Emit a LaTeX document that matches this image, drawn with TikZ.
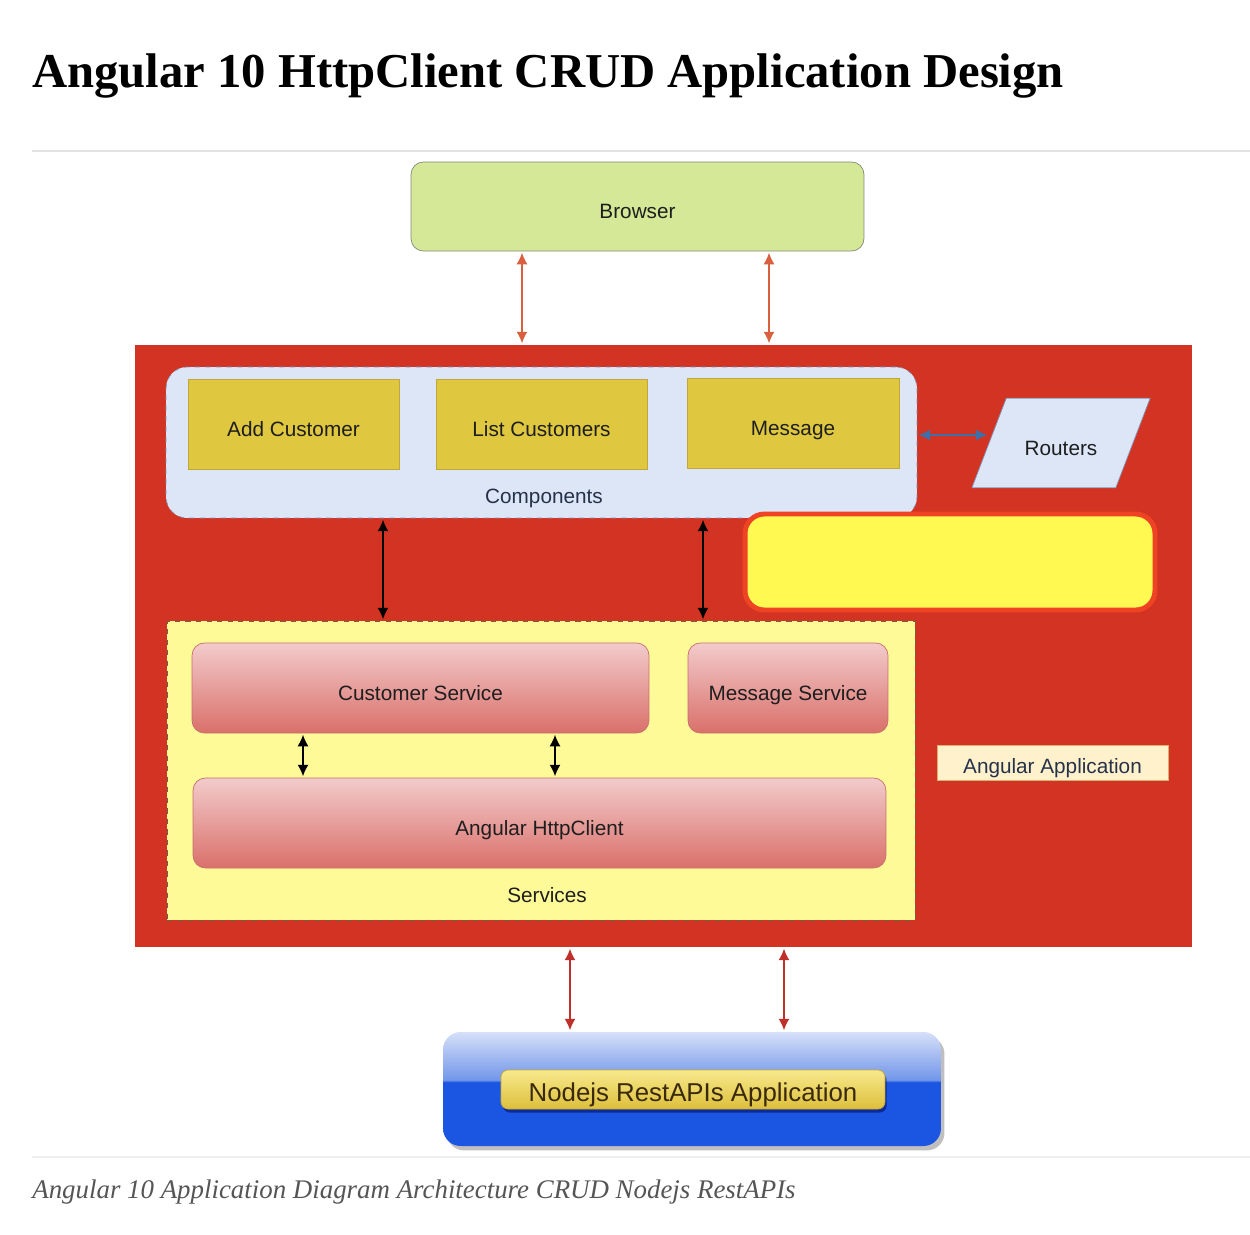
\documentclass[tikz,border=0pt]{standalone}
\usepackage{fontspec}
\setmainfont{Liberation Sans}
\newfontfamily\headserif{Liberation Serif}
\usepackage{tikz}
\usetikzlibrary{shapes.geometric, arrows.meta, positioning, calc, shadows}

\definecolor{textdark}{HTML}{1E1E1E}
\definecolor{textnavy}{HTML}{26324A}
\definecolor{rulegray}{HTML}{E2E2E2}
\definecolor{captiongray}{HTML}{555555}
\definecolor{browsergreen}{HTML}{D4E897}
\definecolor{browseredge}{HTML}{808A78}
\definecolor{appred}{HTML}{D33322}
\definecolor{paleblue}{HTML}{DCE6F7}
\definecolor{paleblueedge}{HTML}{7F92B4}
\definecolor{compyellow}{HTML}{DFC740}
\definecolor{compedge}{HTML}{C2A83A}
\definecolor{noteyellow}{HTML}{FFF952}
\definecolor{noteedge}{HTML}{EE4424}
\definecolor{svcyellow}{HTML}{FFFA98}
\definecolor{svcedge}{HTML}{6E6040}
\definecolor{pinktop}{HTML}{F2CBCB}
\definecolor{pinkbottom}{HTML}{DA706A}
\definecolor{pinkedge}{HTML}{C86E6E}
\definecolor{creamfill}{HTML}{FFF1CC}
\definecolor{creamedge}{HTML}{D8B070}
\definecolor{routerblue}{HTML}{3D6FA8}
\definecolor{toparrowred}{HTML}{D9603F}
\definecolor{lowarrowred}{HTML}{C0302A}
\definecolor{nodeblue}{HTML}{1B56E2}
\definecolor{glossmid}{HTML}{7296EA}
\definecolor{glosstop}{HTML}{D6E0F8}
\definecolor{buttontop}{HTML}{F8E98C}
\definecolor{buttonbottom}{HTML}{DDBF3C}
\definecolor{buttonedge}{HTML}{C9A92F}
\definecolor{buttontext}{HTML}{3B2A0A}

\pgfdeclareverticalshading{glossblue}{100bp}{color(0bp)=(nodeblue); color(25bp)=(nodeblue); color(53bp)=(nodeblue); color(54bp)=(glossmid); color(75bp)=(glosstop); color(100bp)=(glosstop)}

\tikzset{
  box/.style={rectangle, draw, inner sep=0pt, outer sep=0pt, align=center, text=textdark, text height=14pt, text depth=0pt, font=\fontsize{11.8}{14}\selectfont},
  group/.style={box, rounded corners=12pt, dashed, line width=0.4pt},
  compbox/.style={box, fill=compyellow, draw=compedge, minimum width=4.22cm, minimum height=1.8cm},
  svcbox/.style={box, rounded corners=7pt, top color=pinktop, bottom color=pinkbottom, draw=pinkedge, minimum height=1.8cm},
  lbl/.style={inner sep=0pt, text=textdark, font=\fontsize{11.8}{14}\selectfont},
  tip/.style={{Latex[length=2.3mm,width=2.2mm]}-{Latex[length=2.3mm,width=2.2mm]}},
  arrow/.style={tip, line width=0.8pt, shorten <=1pt, shorten >=1pt},
}

\begin{document}
\begin{tikzpicture}[x=0.02cm, y=-0.02cm]
    \useasboundingbox[fill=white] (0,0) rectangle (1250,1234);

    % heading and caption
    \node[anchor=base west, inner sep=0pt, text=black, font=\headserif\bfseries\fontsize{27.7}{32}\selectfont] (title) at (32,87) {Angular 10 HttpClient CRUD Application Design};
    \draw[rulegray, line width=1.2pt] (32,151) -- (1250,151);
    \draw[rulegray!60, line width=1.2pt] (32,1157) -- (1250,1157);
    \node[anchor=base west, inner sep=0pt, text=captiongray, font=\headserif\itshape\fontsize{15.3}{18}\selectfont] (caption) at (32,1198) {Angular 10 Application Diagram Architecture CRUD Nodejs RestAPIs};

    % browser and angular application
    \node[box, fill=browsergreen, draw=browseredge, rounded corners=7pt, minimum width=9.06cm, minimum height=1.78cm] (browser) at (637.5,206.5) {Browser};
    \node[box, draw=none, fill=appred, minimum width=21.14cm, minimum height=12.04cm] (app) at (663.5,646) {};

    % components
    \node[group, fill=paleblue, draw=paleblueedge, minimum width=15.02cm, minimum height=3.02cm] (comps) at (541.5,442.5) {};
    \node[lbl, text=textnavy] (complbl) at (544,498) {Components};
    \node[compbox] (addc) at (293.5,424) {Add Customer};
    \node[compbox] (listc) at (541.5,424) {List Customers};
    \node[compbox, minimum width=4.24cm] (msg) at (793,423) {Message};

    \node[box, trapezium, trapezium left angle=69, trapezium right angle=111, fill=paleblue, draw=paleblueedge,
      text width=1.6cm, inner xsep=0.295cm, inner ysep=18.5pt] (routers) at (1061,443) {Routers};
    \draw[arrow, routerblue] (comps.east |- 0,435) -- (routers.west |- 0,435);

    \node[box, fill=noteyellow, draw=noteedge, line width=2.8pt, rounded corners=11pt, minimum width=8.2cm, minimum height=1.92cm] (note) at (950,562) {};

    % services
    \node[group, rounded corners=0pt, fill=svcyellow, draw=svcedge, minimum width=14.96cm, minimum height=5.98cm] (svcs) at (541,770.5) {};
    \node[lbl] (svclbl) at (547,895) {Services};
    \node[svcbox, minimum width=9.14cm] (custsvc) at (420.5,688) {Customer Service};
    \node[svcbox, minimum width=4cm] (msgsvc) at (788,688) {Message Service};
    \node[svcbox, minimum width=13.86cm] (httpc) at (539.5,823) {Angular HttpClient};

    \node[box, fill=creamfill, draw=creamedge, text=textnavy, text height=12pt, minimum width=4.62cm, minimum height=0.7cm] (angapp) at (1052.5,762.5) {Angular Application};

    % backend
    \node[box, draw=none, shading=glossblue, rounded corners=10pt, minimum width=9.96cm, minimum height=2.28cm,
      drop shadow={shadow xshift=2pt, shadow yshift=-2.5pt, fill=black, opacity=0.25}] (nodejs) at (692,1089) {};
    \node[box, top color=buttontop, bottom color=buttonbottom, draw=buttonedge, rounded corners=4pt, text=buttontext,
      font=\fontsize{14.7}{17}\selectfont, minimum width=7.68cm, minimum height=0.78cm,
      drop shadow={shadow xshift=1pt, shadow yshift=-2pt, fill=black!70!blue, opacity=0.5}] (restapi) at (693,1089.5) {Nodejs RestAPIs Application};

    % connectors
    \draw[arrow, toparrowred] (522,0 |- browser.south) -- (522,0 |- app.north);
    \draw[arrow, toparrowred] (769,0 |- browser.south) -- (769,0 |- app.north);
    \draw[arrow, black] (383,0 |- comps.south) -- (383,0 |- svcs.north);
    \draw[arrow, black] (703,0 |- comps.south) -- (703,0 |- svcs.north);
    \draw[arrow, black] (303,0 |- custsvc.south) -- (303,0 |- httpc.north);
    \draw[arrow, black] (555,0 |- custsvc.south) -- (555,0 |- httpc.north);
    \draw[arrow, lowarrowred] (570,0 |- app.south) -- (570,0 |- nodejs.north);
    \draw[arrow, lowarrowred] (784,0 |- app.south) -- (784,0 |- nodejs.north);
\end{tikzpicture}
\end{document}
